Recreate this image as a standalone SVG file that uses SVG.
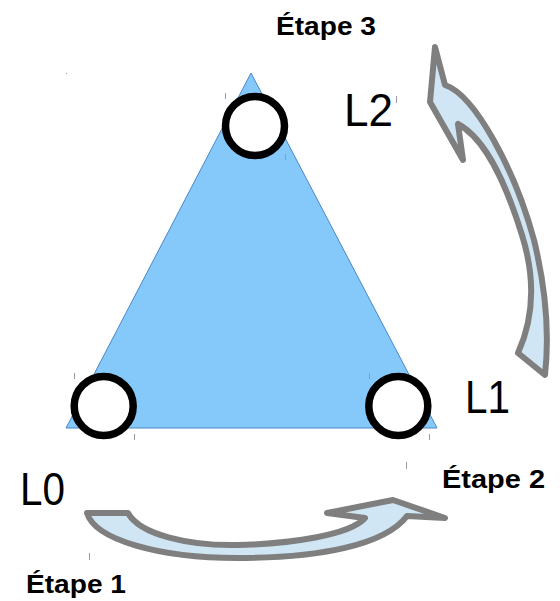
<svg xmlns="http://www.w3.org/2000/svg" width="560" height="601" viewBox="0 0 560 601">
<style>
.lvl{font-family:"Liberation Sans",Arial,sans-serif;font-size:46px;fill:#000}
.step{font-family:"Liberation Sans",Arial,sans-serif;font-size:25px;font-weight:bold;fill:#000}
.node{fill:#fff;stroke:#000;stroke-width:7.5}
.arrow{fill:#d0e6f4;stroke:#7f7f7f;stroke-width:6;stroke-linejoin:round}
.tick{stroke:#9a9a9a;stroke-width:1}
</style>
<rect width="560" height="601" fill="#fff"/>
<g id="triangle">
<polygon points="251,73 66,428 437,428" fill="#85c9fb" stroke="#4a86c8" stroke-width="1"/>
</g>
<g id="ticks">
<line class="tick" x1="225.5" y1="93" x2="225.5" y2="99"/>
<line class="tick" x1="285.5" y1="154" x2="285.5" y2="160"/>
<line class="tick" x1="74.5" y1="373" x2="74.5" y2="379"/>
<line class="tick" x1="134.5" y1="434" x2="134.5" y2="440"/>
<line class="tick" x1="369.5" y1="373" x2="369.5" y2="379"/>
<line class="tick" x1="429.5" y1="434" x2="429.5" y2="440"/>
<line class="tick" x1="396.5" y1="96" x2="396.5" y2="103"/>
<line class="tick" x1="406.5" y1="462" x2="406.5" y2="469"/>
<line class="tick" x1="89.5" y1="553" x2="89.5" y2="560"/>
<rect x="66" y="73" width="1" height="1" fill="#9a9a9a"/>
</g>
<g id="connectors">
<path class="arrow" d="M 87,513 L 128,513 C 140,535 190,546 237,545 C 290,544 350,535 365,518 L 327,513 L 393,500 L 445,518 L 407,516 C 385,545 320,558 237,558 C 160,558 95,540 87,513 Z"/>
<path class="arrow" d="M 435,47 L 445,85 C 475,95 515,170 534,240 C 545,285 550,330 545,375 L 518,353 C 533,320 536,280 522,235 C 508,190 488,140 458,124 L 463,160 L 430,102 Z"/>
</g>
<g id="L2">
<circle class="node" cx="255" cy="126" r="29.5"/>
<text class="lvl" x="344" y="125.7" textLength="49" lengthAdjust="spacingAndGlyphs">L2</text>
</g>
<g id="L0">
<circle class="node" cx="103.7" cy="406" r="29.5"/>
<text class="lvl" x="20" y="505" textLength="45" lengthAdjust="spacingAndGlyphs">L0</text>
</g>
<g id="L1">
<circle class="node" cx="398.3" cy="406" r="29.5"/>
<text class="lvl" x="465" y="413" textLength="45" lengthAdjust="spacingAndGlyphs">L1</text>
</g>
<g id="etape3"><text class="step" x="276" y="34.5" textLength="100" lengthAdjust="spacingAndGlyphs">Étape 3</text></g>
<g id="etape2"><text class="step" x="442" y="488" textLength="103" lengthAdjust="spacingAndGlyphs">Étape 2</text></g>
<g id="etape1"><text class="step" x="26" y="593" textLength="100" lengthAdjust="spacingAndGlyphs">Étape 1</text></g>
</svg>
